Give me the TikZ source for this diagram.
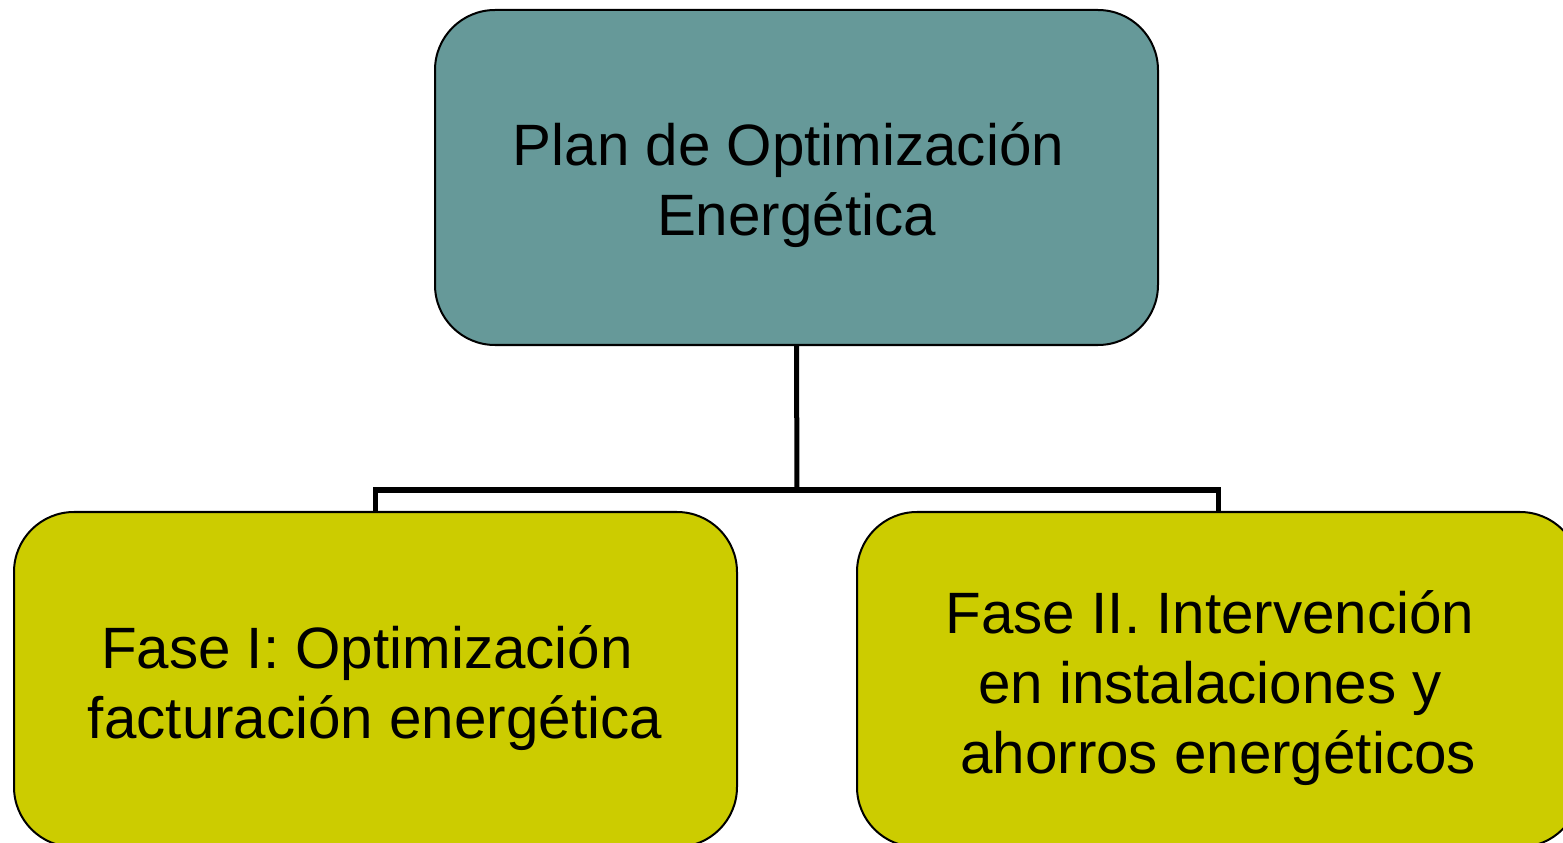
\documentclass[tikz,border=0pt]{standalone}
\usepackage{fontspec}
\setmainfont{Liberation Sans}
\definecolor{teal1}{HTML}{669999}
\definecolor{olive1}{HTML}{CCCC00}
\begin{document}
\begin{tikzpicture}[
  box/.style={draw=black, line width=0.02cm, rounded corners=0.6cm,
    minimum width=7.23cm, minimum height=3.35cm, inner sep=0pt},
  txt/.style={font=\fontsize{16.6pt}{19.9pt}\selectfont, align=center, inner sep=0pt},
  conn/.style={draw=black, line width=0.05cm}
]
\useasboundingbox (0,0) rectangle (15.63,-8.43);
\clip (0,0) rectangle (15.63,-8.43);
\node[box, fill=teal1] (top) at (7.965,-1.775) {};
\node[box, fill=olive1] (left) at (3.755,-6.795) {};
\node[box, fill=olive1] (right) at (12.185,-6.795) {};
\coordinate (bar) at (7.97,-4.90);
\draw[conn] (top.south) -- (bar);
\draw[conn] (left.north) |- (bar) -| (right.north);
\node[txt, anchor=base] (tt) at (7.965,-2.35) {Plan de Optimización\hspace*{0.278em}\\Energética};
\node[txt, anchor=base] (lt) at (3.75,-7.38) {Fase I: Optimización\hspace*{0.278em}\\facturación energética};
\node[txt, anchor=base] (rt) at (12.10,-7.73) {Fase II. Intervención\\en instalaciones y\\\hspace*{0.278em}ahorros energéticos};
\end{tikzpicture}
\end{document}
